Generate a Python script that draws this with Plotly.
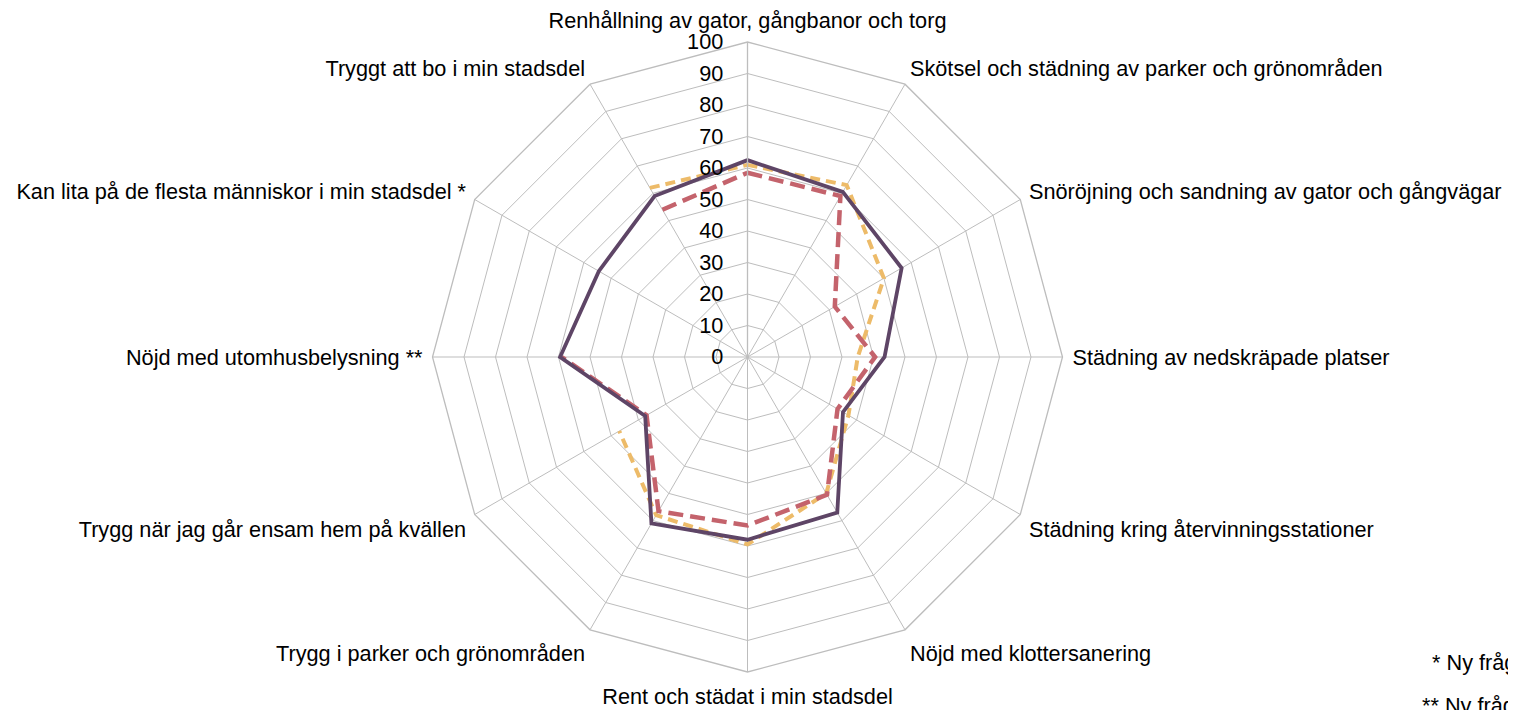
import plotly.graph_objects as go

categories = [
    "Renhållning av gator, gångbanor och torg",
    "Skötsel och städning av parker och grönområden",
    "Snöröjning och sandning av gator och gångvägar",
    "Städning av nedskräpade platser",
    "Städning kring återvinningsstationer",
    "Nöjd med klottersanering",
    "Rent och städat i min stadsdel",
    "Trygg i parker och grönområden",
    "Trygg när jag går ensam hem på kvällen",
    "Nöjd med utomhusbelysning **",
    "Kan lita på de flesta människor i min stadsdel *",
    "Tryggt att bo i min stadsdel",
]

series_purple = [62.5, 60.5, 56.5, 43.5, 35, 57, 58, 61, 37.5, 59.5, 54.5, 59]
series_red = [58.5, 59, 32, 40.5, 33, 50.5, 53.5, 56.5, 37, 59, None, 54]
series_yellow = [61, 63, 50, 35, 37, 50, 59.5, 58, 47, None, None, 62]

radial_ticks = [0, 10, 20, 30, 40, 50, 60, 70, 80, 90, 100]
notes = ["* Ny fråga", "** Ny fråga"]

FONT = "Liberation Sans, Arial, sans-serif"
FS = 21.7

def closed(vals):
    return list(vals) + [vals[0]]

theta = closed(categories)

fig = go.Figure()
fig.add_trace(go.Scatterpolar(
    r=closed(series_yellow), theta=theta, mode="lines", name="Serie 3",
    line=dict(color="#EDBB69", width=4, dash="10px,6px"),
))
fig.add_trace(go.Scatterpolar(
    r=closed(series_red), theta=theta, mode="lines", name="Serie 2",
    line=dict(color="#C4636C", width=4.5, dash="15px,7px"),
))
fig.add_trace(go.Scatterpolar(
    r=closed(series_purple), theta=theta, mode="lines", name="Serie 1",
    line=dict(color="#5E4566", width=3.8),
))

# page body offset of 8px compensated: screen coords minus 8
cx, cy, R = 739.5, 349, 315
W, H = 1516, 710
fig.update_layout(
    width=W, height=H,
    margin=dict(l=0, r=0, t=0, b=0),
    paper_bgcolor="white",
    showlegend=False,
    font=dict(family=FONT, size=FS, color="black"),
    polar=dict(
        domain=dict(x=[(cx - R) / W, (cx + R) / W], y=[(H - cy - R) / H, (H - cy + R) / H]),
        bgcolor="white",
        gridshape="linear",
        radialaxis=dict(
            range=[0, 100], tickvals=radial_ticks, ticktext=[str(t) for t in radial_ticks],
            angle=90, tickangle=90, side="counterclockwise",
            showline=True, linecolor="#BDBDBD", linewidth=1.3,
            gridcolor="#BDBDBD", gridwidth=1.3,
            ticks="outside", ticklen=16, tickcolor="rgba(0,0,0,0)",
            tickfont=dict(family=FONT, size=FS, color="black"),
        ),
        angularaxis=dict(
            direction="clockwise", rotation=90,
            showline=True, linecolor="#BDBDBD", linewidth=1.3,
            gridcolor="#BDBDBD", gridwidth=1.3,
            ticks="outside", ticklen=5, tickcolor="rgba(0,0,0,0)",
            tickfont=dict(family=FONT, size=FS, color="black"),
        ),
    ),
)

fig.add_annotation(text=notes[0], x=1422 / W, y=(H - 654) / H, xref="paper", yref="paper",
                   showarrow=False, xanchor="left", yanchor="middle",
                   font=dict(family=FONT, size=FS, color="black"))
fig.add_annotation(text=notes[1], x=1412 / W, y=(H - 697) / H, xref="paper", yref="paper",
                   showarrow=False, xanchor="left", yanchor="middle",
                   font=dict(family=FONT, size=FS, color="black"))

fig.write_html("out.html")
